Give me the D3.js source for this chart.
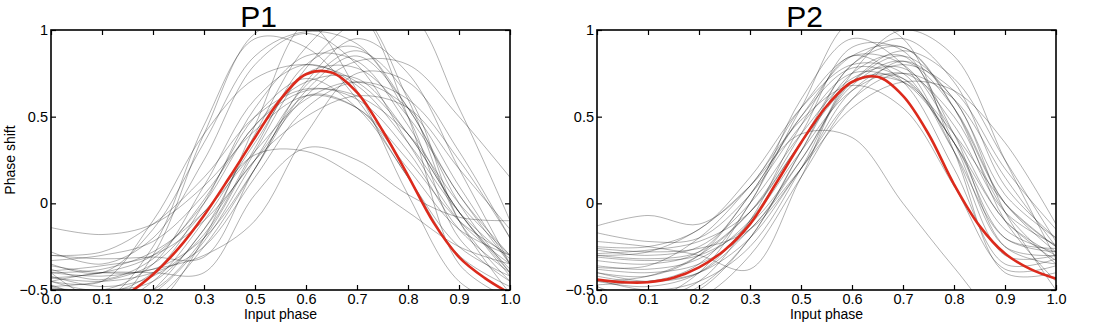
<!DOCTYPE html>
<html>
<head>
<meta charset="utf-8">
<script src="https://cdn.jsdelivr.net/npm/d3@7"></script>
<style>
  body { margin: 0; background: #fff; }
  text { font-family: "Liberation Sans", Arial, sans-serif; fill: #000; }
</style>
</head>
<body>
<div id="chart"></div>
<script>
// Tick labels as printed on the original (note: no 0.4)
const xTickLabels = ["0.0", "0.1", "0.2", "0.3", "0.5", "0.6", "0.7", "0.8", "0.9", "1.0"];
const yTicks = [-0.5, 0, 0.5, 1];
const yTickLabels = ["\u22120.5", "0", "0.5", "1"];

// x positions in tick units (0 = first tick, 9 = last tick)
const grayPos = [0, 1, 2, 3, 4, 5, 6, 7, 8, 9];
const redPos = [0, 0.5, 1, 1.5, 2, 2.5, 3, 3.5, 4, 4.5, 5, 5.5, 6, 6.5, 7, 7.5, 8, 8.5, 9];

// mean curves (red)
const p1Mean = [-0.62, -0.61, -0.58, -0.52, -0.41, -0.26, -0.07, 0.15, 0.38, 0.60,
                0.745, 0.755, 0.64, 0.42, 0.16, -0.11, -0.31, -0.43, -0.52];
const p2Mean = [-0.44, -0.455, -0.455, -0.43, -0.37, -0.27, -0.12, 0.11, 0.35, 0.56,
                0.70, 0.73, 0.62, 0.40, 0.11, -0.13, -0.29, -0.38, -0.435];

// individual curves (gray), one value per tick position
const p1Curves = [
    [-0.14, -0.18, -0.12, 0.10, 0.42, 0.62, 0.55, 0.25, -0.10, -0.30],
    [-0.45, -0.40, -0.40, -0.40, 0.05, 0.32, 0.25, 0.05, -0.08, -0.10],
    [-0.48, -0.45, -0.35, -0.05, 0.28, 0.30, 0.15, -0.05, -0.25, -0.35],
    [-0.30, -0.32, -0.31, -0.31, 0.20, 0.62, 0.55, 0.20, -0.15, -0.30],
    [-0.28, -0.35, -0.20, 0.25, 0.80, 0.98, 0.80, 0.35, -0.10, -0.35],
    [-0.40, -0.55, -0.25, 0.45, 0.95, 0.90, 0.60, 0.15, -0.25, -0.42],
    [-0.35, -0.40, -0.15, 0.35, 0.85, 0.99, 0.92, 0.55, 0.05, -0.30],
    [-0.45, -0.45, -0.10, 0.40, 0.72, 0.80, 0.70, 0.40, -0.05, -0.40],
    [-0.30, -0.28, -0.12, 0.15, 0.50, 0.66, 0.60, 0.30, -0.15, -0.40],
    [-0.43, -0.40, -0.30, 0.00, 0.45, 0.65, 0.62, 0.40, 0.00, -0.30],
    [-0.40, -0.38, -0.28, -0.05, 0.30, 0.60, 0.70, 0.55, 0.10, -0.35],
    [-0.39, -0.36, -0.30, -0.10, 0.25, 0.62, 0.82, 0.80, 0.50, 0.15],
    [-0.47, -0.55, -0.50, -0.20, 0.30, 0.78, 1.05, 1.10, 0.55, -0.10],
    [-0.49, -0.50, -0.45, -0.15, 0.40, 0.90, 1.10, 0.60, -0.10, -0.45],
    [-0.36, -0.40, -0.38, -0.20, 0.20, 0.65, 0.85, 0.55, 0.00, -0.40],
    [-0.50, -0.60, -0.55, -0.25, 0.20, 0.70, 0.95, 0.75, 0.20, -0.35],
    [-0.55, -0.60, -0.45, -0.10, 0.35, 0.75, 0.78, 0.50, 0.05, -0.35],
    [-0.43, -0.45, -0.40, -0.25, 0.15, 0.55, 0.70, 0.60, 0.25, -0.20],
    [-0.48, -0.52, -0.40, 0.00, 0.55, 0.85, 0.82, 0.45, -0.05, -0.38],
    [-0.33, -0.30, -0.22, 0.05, 0.45, 0.70, 0.72, 0.40, -0.05, -0.42],
    [-0.55, -0.70, -0.60, -0.20, 0.45, 1.05, 1.10, 0.50, -0.35, -0.55],
    [-0.45, -0.50, -0.35, 0.10, 0.60, 0.80, 0.68, 0.35, -0.05, -0.32],
    [-0.60, -0.70, -0.50, -0.15, 0.25, 0.50, 0.62, 0.55, 0.20, -0.15],
    [-0.40, -0.42, -0.38, -0.30, -0.10, 0.40, 0.75, 0.70, 0.30, -0.20],
    [-0.52, -0.62, -0.30, 0.40, 0.98, 1.05, 0.65, 0.05, -0.45, -0.60],
    [-0.38, -0.44, -0.32, 0.02, 0.50, 0.72, 0.55, 0.15, -0.30, -0.48],
    [-0.58, -0.66, -0.52, -0.22, 0.25, 0.68, 0.88, 0.62, -0.10, -0.52],
    [-0.42, -0.48, -0.42, -0.18, 0.32, 0.80, 0.90, 0.50, -0.20, -0.45]
];

const p2Curves = [
    [-0.13, -0.07, -0.12, 0.10, 0.55, 0.85, 0.80, 0.40, -0.10, -0.30],
    [-0.17, -0.22, -0.20, 0.05, 0.45, 0.75, 0.70, 0.35, -0.20, -0.28],
    [-0.25, -0.25, -0.15, 0.15, 0.55, 0.80, 0.75, 0.30, -0.20, -0.26],
    [-0.27, -0.30, -0.25, 0.00, 0.40, 0.72, 0.78, 0.45, -0.05, -0.24],
    [-0.30, -0.32, -0.28, -0.05, 0.35, 0.70, 0.85, 0.60, 0.05, -0.20],
    [-0.30, -0.28, -0.15, 0.10, 0.40, 0.38, 0.00, -0.37, -0.70, -0.80],
    [-0.40, -0.42, -0.30, 0.05, 0.50, 0.85, 0.90, 0.55, 0.00, -0.25],
    [-0.45, -0.48, -0.40, -0.10, 0.35, 0.80, 0.95, 0.70, 0.10, -0.20],
    [-0.26, -0.28, -0.26, -0.15, 0.20, 0.65, 0.80, 0.65, 0.20, -0.15],
    [-0.50, -0.55, -0.45, -0.10, 0.45, 0.85, 0.70, 0.20, -0.35, -0.32],
    [-0.38, -0.40, -0.35, -0.15, 0.25, 0.70, 0.88, 0.72, 0.25, -0.22],
    [-0.42, -0.45, -0.35, 0.00, 0.60, 0.95, 0.80, 0.30, -0.30, -0.30],
    [-0.55, -0.60, -0.50, -0.20, 0.30, 0.75, 0.85, 0.40, -0.25, -0.35],
    [-0.22, -0.25, -0.30, -0.38, 0.15, 0.70, 0.72, 0.35, -0.15, -0.28],
    [-0.47, -0.45, -0.40, -0.20, 0.20, 0.60, 0.75, 0.60, 0.15, -0.25],
    [-0.33, -0.35, -0.28, 0.05, 0.50, 0.78, 0.72, 0.35, -0.10, -0.33],
    [-0.48, -0.55, -0.40, 0.00, 0.55, 1.05, 0.95, 0.30, -0.40, -0.40],
    [-0.44, -0.50, -0.45, -0.25, 0.20, 0.75, 1.00, 0.85, 0.25, -0.32],
    [-0.29, -0.27, -0.22, -0.05, 0.35, 0.70, 0.70, 0.40, 0.00, -0.25],
    [-0.36, -0.38, -0.32, -0.10, 0.30, 0.65, 0.75, 0.50, -0.05, -0.35],
    [-0.40, -0.45, -0.40, -0.15, 0.20, 0.55, 0.70, 0.65, 0.35, -0.12],
    [-0.52, -0.58, -0.48, -0.20, 0.30, 0.80, 0.90, 0.55, -0.10, -0.45],
    [-0.31, -0.33, -0.30, -0.12, 0.25, 0.68, 0.82, 0.55, 0.00, -0.28],
    [-0.45, -0.42, -0.30, -0.05, 0.40, 0.90, 0.88, 0.35, -0.25, -0.30],
    [-0.58, -0.62, -0.55, -0.30, 0.15, 0.60, 0.82, 0.60, -0.05, -0.50],
    [-0.37, -0.36, -0.20, 0.10, 0.48, 0.68, 0.55, 0.10, -0.38, -0.36]
];

const width = 1106;
const height = 328;
const plotTop = 30;
const plotBottom = 290;
const plotWidth = 459;

const svg = d3.select("#chart")
    .append("svg")
    .attr("width", width)
    .attr("height", height);

function drawPanel(left, title, curves, mean, showYLabel) {
    const x = d3.scaleLinear().domain([0, 9]).range([left, left + plotWidth]);
    const y = d3.scaleLinear().domain([-0.5, 1]).range([plotBottom, plotTop]);

    const clipId = "clip-" + title;
    svg.append("clipPath")
        .attr("id", clipId)
        .append("rect")
        .attr("x", left)
        .attr("y", plotTop)
        .attr("width", plotWidth)
        .attr("height", plotBottom - plotTop);

    const g = svg.append("g").attr("clip-path", `url(#${clipId})`);

    const grayLine = d3.line()
        .x((d, i) => x(grayPos[i]))
        .y(d => y(d))
        .curve(d3.curveCatmullRom.alpha(0.5));

    g.selectAll(".gray")
        .data(curves)
        .enter()
        .append("path")
        .attr("fill", "none")
        .attr("stroke", "#000")
        .attr("stroke-opacity", 0.3)
        .attr("stroke-width", 1)
        .attr("d", grayLine);

    const redLine = d3.line()
        .x((d, i) => x(redPos[i]))
        .y(d => y(d))
        .curve(d3.curveCatmullRom.alpha(0.5));

    g.append("path")
        .datum(mean)
        .attr("fill", "none")
        .attr("stroke", "#dc2a1c")
        .attr("stroke-width", 2.6)
        .attr("d", redLine);

    const tickIdx = d3.range(xTickLabels.length);

    // bottom axis, ticks pointing inward
    svg.append("g")
        .attr("transform", `translate(0,${plotBottom})`)
        .call(d3.axisBottom(x).tickValues(tickIdx)
            .tickFormat(i => xTickLabels[i])
            .tickSizeInner(-5).tickSizeOuter(0).tickPadding(4))
        .call(a => a.select(".domain").remove())
        .style("font-size", "14.5px");

    svg.append("g")
        .attr("transform", `translate(0,${plotTop})`)
        .call(d3.axisTop(x).tickValues(tickIdx)
            .tickFormat("").tickSizeInner(-5).tickSizeOuter(0))
        .call(a => a.select(".domain").remove());

    svg.append("g")
        .attr("transform", `translate(${left},0)`)
        .call(d3.axisLeft(y).tickValues(yTicks)
            .tickFormat((d, i) => yTickLabels[i])
            .tickSizeInner(-5).tickSizeOuter(0).tickPadding(3))
        .call(a => a.select(".domain").remove())
        .style("font-size", "14.5px");

    svg.append("g")
        .attr("transform", `translate(${left + plotWidth},0)`)
        .call(d3.axisRight(y).tickValues(yTicks)
            .tickFormat("").tickSizeInner(-5).tickSizeOuter(0))
        .call(a => a.select(".domain").remove());

    svg.selectAll(".tick line").attr("stroke", "#000").attr("stroke-width", 1.2);
    svg.selectAll(".tick text").attr("fill", "#000");

    // box
    svg.append("rect")
        .attr("x", left)
        .attr("y", plotTop)
        .attr("width", plotWidth)
        .attr("height", plotBottom - plotTop)
        .attr("fill", "none")
        .attr("stroke", "#000")
        .attr("stroke-width", 1.6);

    // title
    svg.append("text")
        .attr("x", left + plotWidth / 2 - 22)
        .attr("y", 27)
        .style("text-anchor", "middle")
        .style("font-size", "30px")
        .text(title);

    svg.append("text")
        .attr("x", left + plotWidth / 2)
        .attr("y", 319)
        .style("text-anchor", "middle")
        .style("font-size", "14px")
        .text("Input phase");

    if (showYLabel) {
        svg.append("text")
            .attr("transform", "rotate(-90)")
            .attr("x", -(plotTop + plotBottom) / 2)
            .attr("y", 15)
            .style("text-anchor", "middle")
            .style("font-size", "14px")
            .text("Phase shift");
    }
}

drawPanel(51, "P1", p1Curves, p1Mean, true);
drawPanel(597, "P2", p2Curves, p2Mean, false);
</script>
</body>
</html>
